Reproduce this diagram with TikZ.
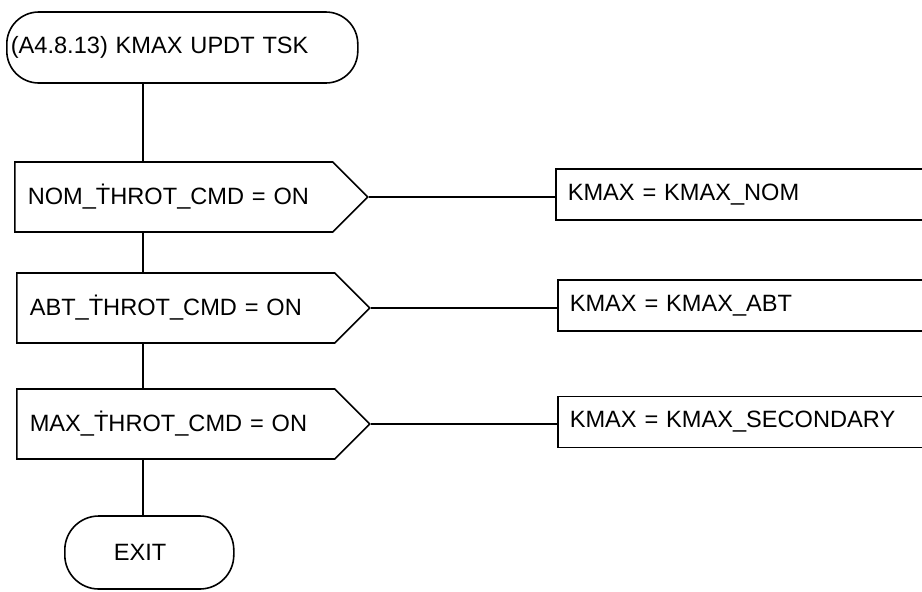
\documentclass[tikz,border=0pt]{standalone}
\usepackage{fontspec}
\setmainfont{Liberation Sans}
\usetikzlibrary{shapes.symbols,positioning}

\begin{document}
\begin{tikzpicture}[x=0.5pt, y=-0.5pt, line width=0.8pt,
    every node/.style={font=\fontsize{11.8}{14}\selectfont},
    term/.style={rectangle, rounded corners=16pt, draw, minimum height=35.5pt, align=left},
    cond/.style={signal, signal to=east, signal pointer angle=90, draw, minimum height=35pt, inner xsep=6.5pt, text width=146pt, align=left},
    act/.style={rectangle, draw, minimum height=25.5pt, inner xsep=6pt, text width=220pt, align=left},
    link/.style={draw}
]
\useasboundingbox (0,0) rectangle (922,591);
\coordinate (spine) at (143,0);

\node[term, anchor=west, inner xsep=2pt, text width=171.5pt] (tsk) at (6,47.5) {(A4.8.13) KMAX UPDT TSK};

\node[cond, anchor=west] (c1) at (14,197) {NOM\_\.{T}HROT\_CMD = ON};
\node[cond, anchor=west] (c2) at (16,308) {ABT\_\.{T}HROT\_CMD = ON};
\node[cond, anchor=west] (c3) at (16,424) {MAX\_\.{T}HROT\_CMD = ON};

\node[act, anchor=west] (a1) at (555,194.5) {KMAX = KMAX\_NOM};
\node[act, anchor=west] (a2) at (557,305.5) {KMAX = KMAX\_ABT};
\node[act, anchor=west] (a3) at (557,422) {KMAX = KMAX\_SECONDARY};

\node[term, rounded corners=17pt, anchor=west, inner xsep=24.5pt, text width=35.5pt, minimum height=36.5pt] (exit) at (64,552.5) {EXIT};

\draw[link] (tsk.south -| spine) -- (c1.north -| spine);
\draw[link] (c1.south -| spine) -- (c2.north -| spine);
\draw[link] (c2.south -| spine) -- (c3.north -| spine);
\draw[link] (c3.south -| spine) -- (exit.north -| spine);

\draw[link] (c1.east) -- (c1.east -| a1.west);
\draw[link] (c2.east) -- (c2.east -| a2.west);
\draw[link] (c3.east) -- (c3.east -| a3.west);
\end{tikzpicture}
\end{document}
